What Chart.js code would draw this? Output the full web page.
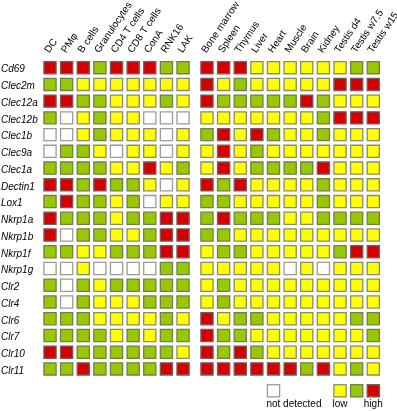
<!DOCTYPE html>
<html>
<head>
<meta charset="utf-8">
<script src="https://cdn.jsdelivr.net/npm/chart.js@4.4.0/dist/chart.umd.min.js"></script>
<style>
  body { margin: 0; background: #fff; }
</style>
</head>
<body>
<canvas id="heatmap" width="397" height="411"></canvas>
<script>
const cellTypes = ['DC', 'PMφ', 'B cells', 'Granulocytes', 'CD4 T cells', 'CD8 T cells', 'ConA', 'RNK16', 'LAK'];
const tissues = ['Bone marrow', 'Spleen', 'Thymus', 'Liver', 'Heart', 'Muscle', 'Brain', 'Kidney', 'Testis d4', 'Testis w7.5', 'Testis w15'];
const genes = ['Cd69', 'Clec2m', 'Clec12a', 'Clec12b', 'Clec1b', 'Clec9a', 'Clec1a', 'Dectin1', 'Lox1',
  'Nkrp1a', 'Nkrp1b', 'Nkrp1f', 'Nkrp1g', 'Clr2', 'Clr4', 'Clr6', 'Clr7', 'Clr10', 'Clr11'];

// 0 = not detected, 1 = low, 2 = intermediate, 3 = high
const cellLevels = [
  [3,3,3,2,3,3,3,2,2],
  [2,2,1,1,1,1,1,1,1],
  [3,3,2,2,1,1,1,2,1],
  [2,0,1,2,1,1,0,0,0],
  [0,0,1,2,1,1,1,0,1],
  [0,2,2,1,0,1,1,0,1],
  [2,2,2,2,1,1,3,1,2],
  [3,3,2,3,2,2,1,0,1],
  [2,3,2,2,1,2,0,1,1],
  [3,2,2,2,1,2,2,3,3],
  [3,0,2,2,1,1,2,3,3],
  [2,2,1,1,2,2,2,3,3],
  [0,0,1,0,0,0,0,2,2],
  [2,0,2,1,2,2,2,2,2],
  [2,0,2,1,1,1,2,2,2],
  [2,2,2,1,1,1,1,2,1],
  [2,2,2,2,1,2,1,2,2],
  [3,3,2,2,2,2,2,2,1],
  [2,2,3,2,2,2,2,3,3]
];
const tissueLevels = [
  [3,3,3,1,1,1,1,1,1,2,2],
  [3,1,2,1,1,1,1,1,3,3,3],
  [3,2,2,2,2,2,3,2,1,1,1],
  [1,1,1,1,1,1,1,2,3,3,3],
  [2,3,1,3,2,1,1,2,1,1,1],
  [1,3,1,2,1,1,1,1,1,1,1],
  [1,3,1,2,2,2,2,3,1,1,1],
  [3,2,3,1,1,1,1,2,1,1,1],
  [2,2,1,1,1,1,1,2,1,1,1],
  [2,3,2,2,2,1,1,2,2,2,2],
  [2,2,1,1,1,1,1,1,1,1,1],
  [1,2,2,1,1,1,1,1,2,3,3],
  [1,1,1,1,1,0,1,0,1,1,1],
  [1,2,1,1,1,1,1,1,1,1,1],
  [1,2,1,1,1,1,1,1,1,1,1],
  [3,1,2,2,1,1,1,1,1,2,2],
  [3,2,2,1,1,1,1,1,1,1,2],
  [3,2,3,2,1,1,1,1,1,1,1],
  [3,3,3,3,3,3,2,3,1,2,1]
];
const levelNames = ['not detected', 'low', '', 'high'];

const levelColors = ['#ffffff', '#ffff00', '#99c800', '#d40000'];
const borderColors = ['#9a9a9a', '#8a8a66', '#6f7f4a', '#7a5a5a'];
const columns = cellTypes.concat(tissues);
const GAP = 0.44; // extra space between cell and tissue blocks
const colPos = i => i < cellTypes.length ? i : i + GAP;

const datasets = levelNames.map((name, lvl) => {
  const pts = [];
  genes.forEach((g, r) => {
    cellLevels[r].concat(tissueLevels[r]).forEach((v, c) => {
      if (v === lvl) pts.push({ x: colPos(c), y: r });
    });
  });
  return {
    label: name,
    data: pts,
    pointStyle: 'rect',
    pointRadius: 8.6,
    pointHoverRadius: 8.6,
    backgroundColor: levelColors[lvl],
    borderColor: borderColors[lvl],
    borderWidth: 1.3
  };
});

// legend: boxes sit under the last tissue columns
const keyPlugin = {
  id: 'key',
  afterDraw(chart) {
    const { ctx, chartArea, scales } = chart;
    const xs = scales.x;
    const side = 12.2;
    const top = chartArea.bottom + 7.4;
    const keyCols = ['Heart', 'Testis d4', 'Testis w7.5', 'Testis w15'];
    ctx.save();
    keyCols.forEach((col, lvl) => {
      const cx = xs.getPixelForValue(colPos(columns.indexOf(col)));
      ctx.fillStyle = levelColors[lvl];
      ctx.strokeStyle = borderColors[lvl];
      ctx.lineWidth = 1.3;
      ctx.fillRect(cx - side / 2, top, side, side);
      ctx.strokeRect(cx - side / 2, top, side, side);
      const txt = levelNames[lvl];
      if (!txt) return;
      ctx.fillStyle = '#000';
      ctx.font = '10px Arial, "Liberation Sans", sans-serif';
      ctx.textBaseline = 'alphabetic';
      if (lvl === 0) {
        ctx.textAlign = 'left';
        ctx.fillText(txt, cx - side / 2 - 1, top + 22.5);
      } else {
        ctx.textAlign = 'center';
        ctx.fillText(txt, cx, top + 22.5);
      }
    });
    ctx.restore();
  }
};

Chart.defaults.font.family = 'Arial, "Liberation Sans", sans-serif';
Chart.defaults.font.size = 10;
Chart.defaults.color = '#000';

new Chart(document.getElementById('heatmap'), {
  type: 'scatter',
  data: { datasets: datasets },
  options: {
    responsive: false,
    animation: false,
    layout: { padding: { left: 1, right: 15.4, top: 0, bottom: 33.7 } },
    plugins: { legend: { display: false }, tooltip: { enabled: false } },
    scales: {
      x: {
        type: 'linear',
        position: 'top',
        min: -0.5,
        max: columns.length - 1 + GAP + 0.5,
        grid: { display: false, drawTicks: false },
        border: { display: false },
        ticks: {
          autoSkip: false,
          minRotation: 56,
          maxRotation: 56,
          padding: 4,
          labelOffset: 7,
          callback: (v, i) => columns[i]
        },
        afterBuildTicks: s => { s.ticks = columns.map((c, i) => ({ value: colPos(i) })); },
        afterFit: s => { s.height = 59.3; s.paddingLeft = 0; s.paddingRight = 0; }
      },
      y: {
        type: 'linear',
        reverse: true,
        min: -0.5,
        max: genes.length - 0.5,
        grid: { display: false, drawTicks: false },
        border: { display: false },
        ticks: {
          autoSkip: false,
          crossAlign: 'far',
          labelOffset: 2,
          font: { style: 'italic', size: 10 },
          callback: (v, i) => genes[i]
        },
        afterBuildTicks: s => { s.ticks = genes.map((g, i) => ({ value: i })); },
        afterFit: s => { s.width = 40.7; s.paddingTop = 0; s.paddingBottom = 0; }
      }
    }
  },
  plugins: [keyPlugin]
});
</script>
</body>
</html>
